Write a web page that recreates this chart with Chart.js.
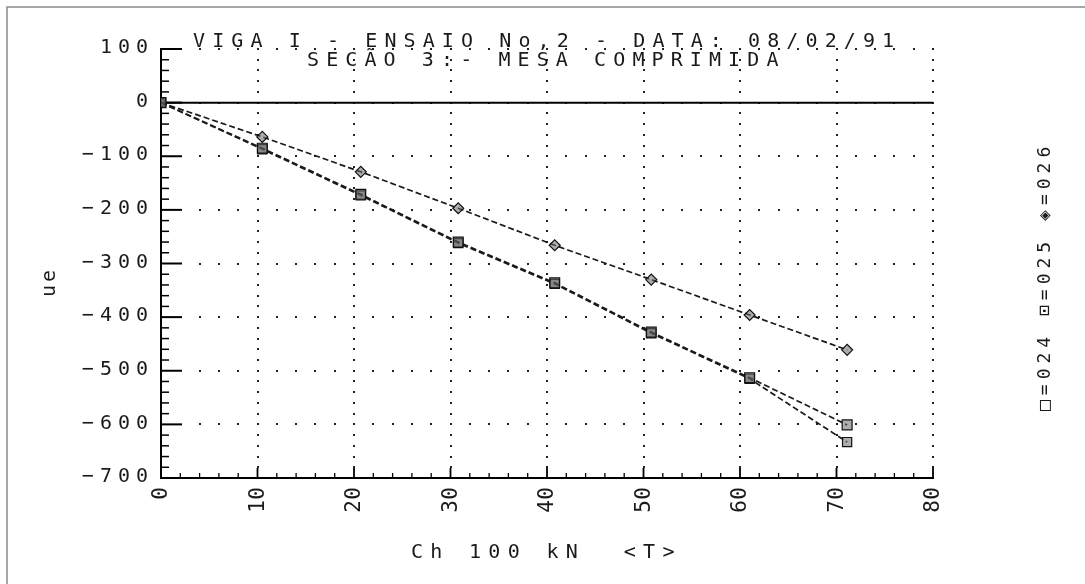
<!DOCTYPE html>
<html>
<head>
<meta charset="utf-8">
<script src="https://cdn.jsdelivr.net/npm/chart.js@4.4.0/dist/chart.umd.min.js"></script>
<style>
  html, body { margin: 0; padding: 0; background: #fff; }
  #wrap { width: 1085px; height: 584px; }
</style>
</head>
<body>
<div id="wrap"><canvas id="grafico" width="1085" height="584"></canvas></div>
<script>
// Carga aplicada (Ch, 100 kN) e deformações (με) dos extensômetros 024, 025 e 026
const cargas = [0, 10.5, 20.7, 30.8, 40.8, 50.8, 61.0, 71.1];
const ext024 = [0, -85, -171, -260, -336, -428, -513, -601];
const ext025 = [0, -87, -173, -262, -338, -430, -515, -633];
const ext026 = [0, -64, -129, -197, -266, -330, -396, -461];

const ticksX = [0, 10, 20, 30, 40, 50, 60, 70, 80];
const ticksY = [100, 0, -100, -200, -300, -400, -500, -600, -700];

const titulo1 = 'VIGA I - ENSAIO No,2 - DATA: 08/02/91';
const titulo2 = 'SECÃO 3:- MESA COMPRIMIDA';
const legenda = '\u25A1=024 \u22A1=025 \u25C8=026';
const rotuloY = 'ue';
const rotuloX = 'Ch 100 kN  <T>';

const FONTE = '"DejaVu Sans Mono", "Liberation Mono", monospace';
const TINTA = '#1a1a1a';

function serie(nome, valores, estilo, raio) {
  return {
    label: nome,
    data: cargas.map((c, i) => ({ x: c, y: valores[i] })),
    borderColor: TINTA,
    borderWidth: 1.7,
    borderDash: [6, 3],
    tension: 0,
    fill: false,
    pointStyle: estilo,
    pointRadius: raio,
    pointBackgroundColor: 'rgba(105,105,105,0.55)',
    pointBorderColor: '#111',
    pointBorderWidth: 1.2
  };
}

function texto(ctx, s, x, y, opts) {
  ctx.save();
  ctx.font = opts.font;
  ctx.letterSpacing = (opts.ls || 0) + 'px';
  ctx.fillStyle = TINTA;
  ctx.textAlign = opts.align || 'left';
  ctx.textBaseline = opts.base || 'alphabetic';
  ctx.translate(x, y);
  if (opts.rot) ctx.rotate(opts.rot);
  ctx.fillText(s, 0, 0);
  ctx.restore();
}

// Moldura, pontilhado da grade, linha do zero e marcas internas dos eixos
const plotter = {
  id: 'plotter',
  beforeDatasetsDraw(chart) {
    const { ctx, scales: { x, y } } = chart;
    const x0 = x.getPixelForValue(0), x80 = x.getPixelForValue(80);
    const yBot = y.getPixelForValue(-700);
    ctx.save();

    // moldura da folha
    ctx.strokeStyle = '#8a8a8a';
    ctx.lineWidth = 1.5;
    ctx.beginPath();
    ctx.moveTo(7, 584); ctx.lineTo(7, 7); ctx.lineTo(1085, 7);
    ctx.stroke();

    // pontilhado: linhas horizontais a cada 100, colunas a cada 10
    ctx.fillStyle = '#222';
    ticksY.slice(0, -1).forEach(v => {
      const py = Math.round(y.getPixelForValue(v));
      for (let c = 4; c <= 80; c += 2) {
        const px = Math.round(x.getPixelForValue(c));
        ctx.fillRect(px - 1, py - 1, 2, 2);
      }
    });
    ticksX.slice(1).forEach(c => {
      const px = Math.round(x.getPixelForValue(c));
      for (let v = 100; v > -700; v -= 20) {
        const py = Math.round(y.getPixelForValue(v));
        ctx.fillRect(px - 1, py - 1, 2, 2);
      }
    });

    // linha do zero
    ctx.strokeStyle = '#000';
    ctx.lineWidth = 2;
    const pz = y.getPixelForValue(0);
    ctx.beginPath(); ctx.moveTo(x0, pz); ctx.lineTo(x80, pz); ctx.stroke();

    // marcas do eixo vertical (para dentro)
    for (let v = 100; v >= -700; v -= 20) {
      const py = y.getPixelForValue(v);
      const major = v % 100 === 0;
      ctx.lineWidth = major ? 2 : 1.5;
      ctx.beginPath(); ctx.moveTo(x0, py); ctx.lineTo(x0 + (major ? 21 : 8), py); ctx.stroke();
    }
    // marcas do eixo horizontal (para dentro)
    for (let c = 0; c <= 80; c += 2) {
      const px = x.getPixelForValue(c);
      const major = c % 10 === 0;
      ctx.lineWidth = major ? 1.8 : 1.3;
      ctx.beginPath(); ctx.moveTo(px, yBot); ctx.lineTo(px, yBot - (major ? 10 : 5)); ctx.stroke();
    }
    ctx.restore();
  },
  afterDraw(chart) {
    const { ctx, scales: { x, y } } = chart;

    // títulos
    texto(ctx, titulo1, 193, 47, { font: '20px ' + FONTE, ls: 7.1 });
    texto(ctx, titulo2, 307, 66, { font: '20px ' + FONTE, ls: 7.1 });

    // rótulos do eixo vertical
    ticksY.forEach(v => {
      const s = v < 0 ? '\u2212' + Math.abs(v) : String(v);
      texto(ctx, s, 148 + 6, y.getPixelForValue(v) - 1,
        { font: '20px ' + FONTE, ls: 6, align: 'right', base: 'middle' });
    });

    // rótulos do eixo horizontal (verticais)
    ticksX.forEach(c => {
      texto(ctx, String(c), x.getPixelForValue(c) + 1, 486.5,
        { font: '21px ' + FONTE, ls: 0.5, align: 'right', base: 'middle', rot: -Math.PI / 2 });
    });

    // títulos dos eixos
    texto(ctx, rotuloY, 50, 282, { font: '20px ' + FONTE, ls: 3, align: 'center', base: 'middle', rot: -Math.PI / 2 });
    texto(ctx, rotuloX, 411, 553, { font: '20px ' + FONTE, ls: 7.3, base: 'middle' });

    // legenda lateral
    texto(ctx, legenda, 1045, 411, { font: '18px ' + FONTE, ls: 5, align: 'left', base: 'middle', rot: -Math.PI / 2 });
  }
};

new Chart(document.getElementById('grafico'), {
  type: 'line',
  data: {
    datasets: [
      serie('024', ext024, 'rect', 7),
      serie('025', ext025, 'rect', 6.5),
      serie('026', ext026, 'rectRot', 5.5)
    ]
  },
  options: {
    responsive: false,
    animation: false,
    devicePixelRatio: 1,
    layout: { padding: { left: 161, right: 152, top: 49, bottom: 106 } },
    plugins: { legend: { display: false }, tooltip: { enabled: false }, title: { display: false } },
    scales: {
      x: {
        type: 'linear', min: 0, max: 80,
        ticks: { display: false, stepSize: 10 },
        grid: { display: false, drawTicks: false },
        border: { display: true, color: '#000', width: 2 }
      },
      y: {
        type: 'linear', min: -700, max: 100,
        ticks: { display: false, stepSize: 100 },
        grid: { display: false, drawTicks: false },
        border: { display: true, color: '#000', width: 2 }
      }
    }
  },
  plugins: [plotter]
});
</script>
</body>
</html>
